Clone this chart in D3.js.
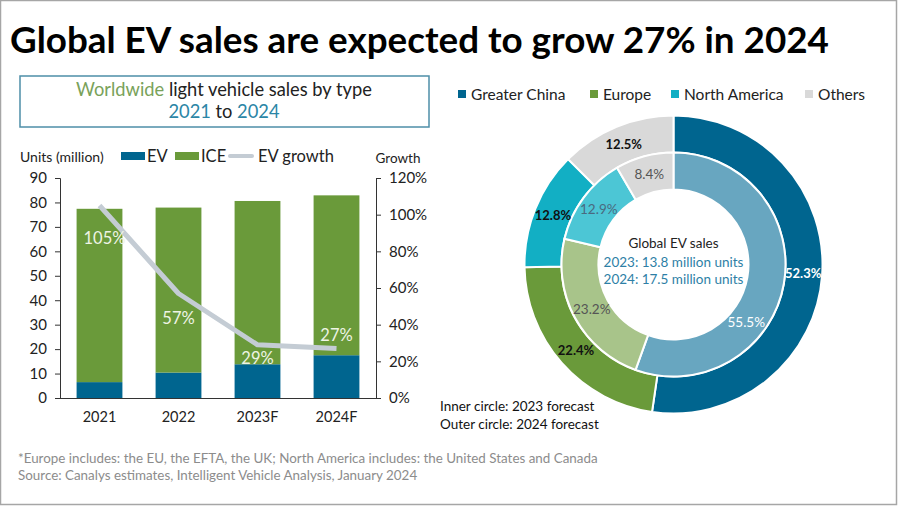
<!DOCTYPE html>
<html><head><meta charset="utf-8">
<script src="https://cdn.jsdelivr.net/npm/d3@7"></script>
<style>body{margin:0;background:#fff}svg{display:block;font-family:Lato,"Open Sans",sans-serif}</style>
</head><body><svg id="c" width="900" height="506"></svg>
<script>
// ---- data ----
const years = ["2021","2022","2023F","2024F"];
const evSales = [6.5, 10.4, 13.8, 17.5];
const iceSales = [70.9, 67.5, 66.8, 65.4];
const evGrowth = [105, 57, 29, 27];
const leftTicks = [0,10,20,30,40,50,60,70,80,90];
const rightTicks = [0,20,40,60,80,100,120];
const regions = ["Greater China","Europe","North America","Others"];
const share2023 = [55.5, 23.2, 12.9, 8.4];
const share2024 = [52.3, 22.4, 12.8, 12.5];

const svg = d3.select("#c");
svg.append("rect").attr("x",0.5).attr("y",0.5).attr("width",896).attr("height",504)
  .attr("fill","none").attr("stroke","#a6a6a6").attr("stroke-width",1.5);

svg.append("text").attr("x",10).attr("y",53).attr("font-size",36.8).attr("font-weight","bold")
  .attr("fill","#000").text("Global EV sales are expected to grow 27% in 2024");

// subtitle box
svg.append("rect").attr("x",20).attr("y",76).attr("width",409).attr("height",51)
  .attr("fill","none").attr("stroke","#4e8ea8").attr("stroke-width",1.5);
const st1 = svg.append("text").attr("x",224).attr("y",96).attr("text-anchor","middle").attr("font-size",18.3);
st1.append("tspan").attr("fill","#79a25a").text("Worldwide");
st1.append("tspan").attr("fill","#222").text(" light vehicle sales by type");
const st2 = svg.append("text").attr("x",224).attr("y",118).attr("text-anchor","middle").attr("font-size",18.3);
st2.append("tspan").attr("fill","#2b86a6").text("2021");
st2.append("tspan").attr("fill","#222").text(" to ");
st2.append("tspan").attr("fill","#2b86a6").text("2024");

// bar chart
const cEV = "#00658f", cICE = "#6a9a3a", cLine = "#c4ccd4";
const x = d3.scaleBand().domain(years).range([60,376]).paddingInner(0.42).paddingOuter(0.21);
const y = d3.scaleLinear().domain([0,90]).range([398,178]);
const y2 = d3.scaleLinear().domain([0,120]).range([398,178]);

const stackData = years.map((yr,i)=>({yr, EV:evSales[i], ICE:iceSales[i]}));
const stack = d3.stack().keys(["EV","ICE"])(stackData);
const colors = {EV:cEV, ICE:cICE};
svg.append("g").selectAll("g").data(stack).join("g").attr("fill",d=>colors[d.key])
  .selectAll("rect").data(d=>d).join("rect")
  .attr("x",d=>x(d.data.yr)).attr("width",x.bandwidth())
  .attr("y",d=>y(d[1])).attr("height",d=>y(d[0])-y(d[1]));

const axL = svg.append("g").attr("transform","translate(60,0)")
  .call(d3.axisLeft(y).tickValues(leftTicks).tickSize(5).tickPadding(8));
const axR = svg.append("g").attr("transform","translate(376,0)")
  .call(d3.axisRight(y2).tickValues(rightTicks).tickSize(5).tickPadding(8).tickFormat(d=>d+"%"));
const axB = svg.append("g").attr("transform","translate(0,398)")
  .call(d3.axisBottom(x).tickSize(0).tickPadding(14));
axB.select(".domain").attr("d","M55,0.5H381");
[axL,axR,axB].forEach(a=>{
  a.selectAll("text").attr("font-size",15).attr("fill","#222").attr("font-family","Lato,sans-serif");
  a.selectAll("line,.domain").attr("stroke","#333");
});
axB.selectAll("text").attr("font-size",14.5);

const line = d3.line().x((d,i)=>x(years[i])+x.bandwidth()/2).y(d=>y2(d));
svg.append("path").datum(evGrowth).attr("d",line).attr("fill","none")
  .attr("stroke",cLine).attr("stroke-width",5).attr("stroke-linejoin","round");
const lblDy = [32, 24, 13, -14];
svg.append("g").selectAll("text").data(evGrowth).join("text")
  .attr("x",(d,i)=>x(years[i])+x.bandwidth()/2+ (i===0?5:0))
  .attr("y",(d,i)=>y2(d)+lblDy[i]+6).attr("text-anchor","middle")
  .attr("font-size",16.5).attr("fill","#eef4e4").text(d=>d+"%");

// legend left
svg.append("text").attr("x",20).attr("y",162).attr("font-size",14).attr("fill","#222").text("Units (million)");
svg.append("text").attr("x",398).attr("y",163).attr("text-anchor","middle").attr("font-size",13.5).attr("fill","#222").text("Growth");
const lg = [{t:"EV",c:cEV,x:121},{t:"ICE",c:cICE,x:175}];
lg.forEach(l=>{
  svg.append("rect").attr("x",l.x).attr("y",152).attr("width",24).attr("height",8).attr("fill",l.c);
  svg.append("text").attr("x",l.x+26).attr("y",162).attr("font-size",16.5).attr("fill","#222").text(l.t);
});
svg.append("line").attr("x1",230).attr("x2",252).attr("y1",156).attr("y2",156).attr("stroke",cLine).attr("stroke-width",4).attr("stroke-linecap","round");
svg.append("text").attr("x",258).attr("y",162).attr("font-size",16.5).attr("fill","#222").text("EV growth");

// donut
const cx = 673.5, cy = 264.5;
const outerCol = ["#00658f","#6a9a3a","#12afc4","#d9d9d9"];
const innerCol = ["#68a6c0","#a8c48a","#4cc6d5","#d9d9d9"];
const pie = d3.pie().sort(null).value(d=>d);
const g = svg.append("g").attr("transform",`translate(${cx},${cy})`);
const arcO = d3.arc().innerRadius(112).outerRadius(149);
const arcI = d3.arc().innerRadius(75).outerRadius(112);
const pO = pie(share2024), pI = pie(share2023);
g.selectAll(".o").data(pO).join("path").attr("class","o").attr("d",arcO)
  .attr("fill",(d,i)=>outerCol[i]).attr("stroke","#fff").attr("stroke-width",2);
g.selectAll(".i").data(pI).join("path").attr("class","i").attr("d",arcI)
  .attr("fill",(d,i)=>innerCol[i]).attr("stroke","#fff").attr("stroke-width",2);
const lO = d3.arc().innerRadius(130).outerRadius(130);
const lI = d3.arc().innerRadius(93).outerRadius(93);
g.selectAll(".ol").data(pO).join("text").attr("class","ol")
  .attr("transform",d=>`translate(${lO.centroid(d)})`).attr("dy","0.35em")
  .attr("text-anchor","middle").attr("font-size",13).attr("font-weight","bold")
  .attr("fill",(d,i)=>i===0?"#fff":"#111").text(d=>d.data.toFixed(1)+"%");
g.selectAll(".il").data(pI).join("text").attr("class","il")
  .attr("transform",(d,i)=>{
    if(i===0){const a=d3.arc().innerRadius(93).outerRadius(93).startAngle(d.startAngle+0.5).endAngle(d.endAngle+0.5);return `translate(${a.centroid(d)})`;}
    return `translate(${lI.centroid(d)})`;})
  .attr("dy","0.35em").attr("text-anchor","middle").attr("font-size",13.5)
  .attr("fill",(d,i)=>i===0?"#fff":(i===2?"#4a6a80":"#555")).text(d=>d.data.toFixed(1)+"%");

g.append("text").attr("y",-17).attr("text-anchor","middle").attr("font-size",13.5).attr("fill","#222").text("Global EV sales");
g.append("text").attr("y",2).attr("text-anchor","middle").attr("font-size",13.5).attr("fill","#2e7fa6").text("2023: 13.8 million units");
g.append("text").attr("y",19).attr("text-anchor","middle").attr("font-size",13.5).attr("fill","#2e7fa6").text("2024: 17.5 million units");

// donut legend
const legX = [458,590,671,805];
regions.forEach((r,i)=>{
  svg.append("rect").attr("x",legX[i]).attr("y",90).attr("width",8).attr("height",8).attr("fill",outerCol[i]);
  svg.append("text").attr("x",legX[i]+13).attr("y",100).attr("font-size",15.5).attr("fill","#222").text(r);
});
svg.append("text").attr("x",440).attr("y",411).attr("font-size",13.5).attr("fill","#111").text("Inner circle: 2023 forecast");
svg.append("text").attr("x",440).attr("y",429).attr("font-size",13.5).attr("fill","#111").text("Outer circle: 2024 forecast");

// footer
svg.append("text").attr("x",18).attr("y",463).attr("font-size",13.4).attr("fill","#8c8c8c")
  .text("*Europe includes: the EU, the EFTA, the UK; North America includes: the United States and Canada");
svg.append("text").attr("x",18).attr("y",480).attr("font-size",13.4).attr("fill","#8c8c8c")
  .text("Source: Canalys estimates, Intelligent Vehicle Analysis, January 2024");
</script></body></html>
